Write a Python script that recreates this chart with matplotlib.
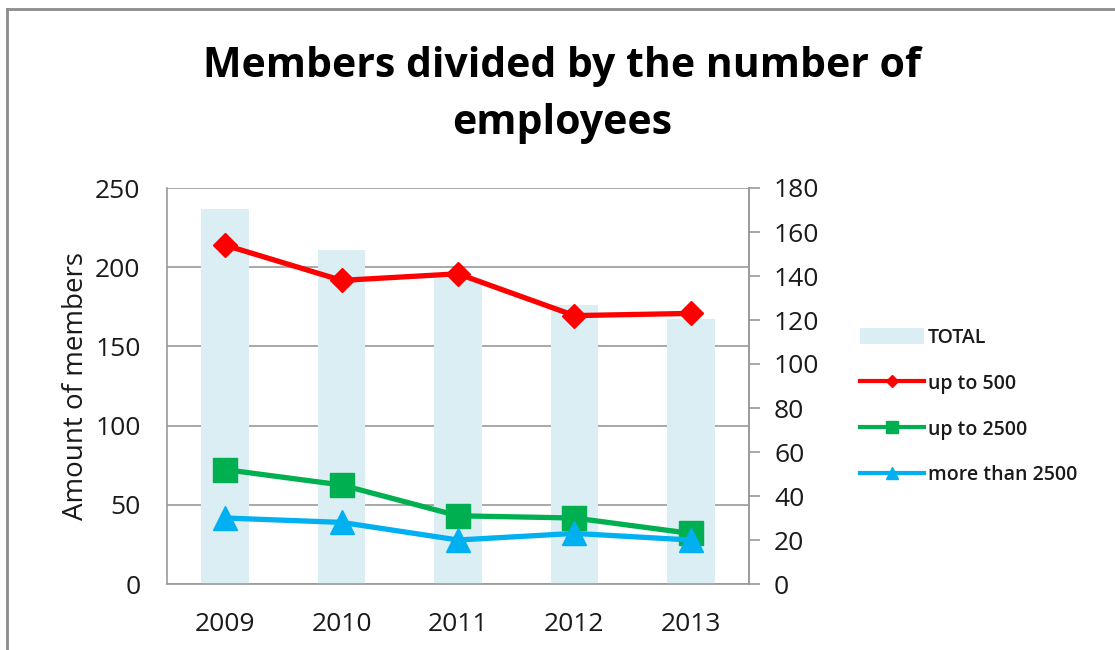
import matplotlib
matplotlib.use("Agg")
import matplotlib.pyplot as plt
from matplotlib.lines import Line2D
from matplotlib.patches import Patch
import numpy as np

plt.rcParams['font.family'] = ['Open Sans', 'DejaVu Sans']

years = ['2009', '2010', '2011', '2012', '2013']
total = [237, 211, 193, 176, 167]
up_to_500 = [154, 138, 141, 122, 123]
up_to_2500 = [52, 45, 31, 30, 23]
more_than_2500 = [30, 28, 20, 23, 20]

left_ticks = [0, 50, 100, 150, 200, 250]
right_ticks = [0, 20, 40, 60, 80, 100, 120, 140, 160, 180]

BAR = '#DAEEF3'
RED = '#FF0000'
GREEN = '#00B050'
BLUE = '#00B0F0'
GRID = '#9a9a9a'
TEXT = '#1a1a1a'

W, H = 1115, 650
fig = plt.figure(figsize=(W / 100, H / 100), dpi=100)

# outer frame (top and left edges visible)
fig.add_artist(Line2D([7 / W, 1.0], [1 - 9 / H, 1 - 9 / H], transform=fig.transFigure,
                      color='#8c8c8c', lw=2))
fig.add_artist(Line2D([7 / W, 7 / W], [0.0, 1 - 9 / H], transform=fig.transFigure,
                      color='#8c8c8c', lw=2))

x0, x1, y0, y1 = 167, 749, 188, 584
ax = fig.add_axes([x0 / W, 1 - y1 / H, (x1 - x0) / W, (y1 - y0) / H])
x = np.arange(len(years))

ax.bar(x, total, width=0.41, color=BAR, zorder=2, label='TOTAL')
ax.set_xlim(-0.5, len(years) - 0.5)
ax.set_ylim(0, 250)
ax.set_yticks(left_ticks)
ax.set_xticks(x)
ax.set_xticklabels(years)
ax.yaxis.grid(True, color=GRID, lw=1.2)
ax.set_axisbelow(True)
ax.tick_params(axis='both', length=0, labelsize=19, colors=TEXT)
ax.tick_params(axis='y', pad=19)
ax.tick_params(axis='x', pad=20)
for s in ax.spines.values():
    s.set_color(GRID)
    s.set_linewidth(1.2)
ax.spines['top'].set_visible(False)
ax.set_ylabel('Amount of members', fontsize=20, labelpad=4, color=TEXT)

ax2 = ax.twinx()
ax2.set_ylim(0, 180)
ax2.set_yticks(right_ticks)
ax2.tick_params(axis='y', length=8, width=1.2, color=GRID, labelsize=19, pad=10,
                labelcolor=TEXT)
for s in ax2.spines.values():
    s.set_visible(False)
ax2.spines['right'].set_visible(True)
ax2.spines['right'].set_color(GRID)
ax2.spines['right'].set_linewidth(1.2)

ax2.plot(x, up_to_500, color=RED, lw=3.8, marker='D', ms=12.5, zorder=3)
ax2.plot(x, up_to_2500, color=GREEN, lw=3.8, marker='s', ms=17, zorder=3)
ax2.plot(x, more_than_2500, color=BLUE, lw=3.8, marker='^', ms=17, zorder=4)

fig.text(562 / W, 1 - 95 / H, 'Members divided by the number of\nemployees',
         ha='center', va='center', fontsize=29.5, fontweight='bold',
         linespacing=1.5, color='black')

handles = [
    Patch(facecolor=BAR, edgecolor='none'),
    Line2D([], [], color=RED, lw=3, marker='D', ms=6),
    Line2D([], [], color=GREEN, lw=3, marker='s', ms=8),
    Line2D([], [], color=BLUE, lw=3, marker='^', ms=8),
]
labels = ['TOTAL', 'up to 500', 'up to 2500', 'more than 2500']
fig.legend(handles, labels, loc='upper left', bbox_to_anchor=(852 / W, 1 - 320 / H),
           frameon=False, prop={'size': 14, 'weight': 'semibold'}, labelcolor=TEXT,
           handlelength=3.3, handleheight=0.9,
           handletextpad=0.2, labelspacing=1.33, borderaxespad=0)

fig.savefig('out.png', dpi=100)
